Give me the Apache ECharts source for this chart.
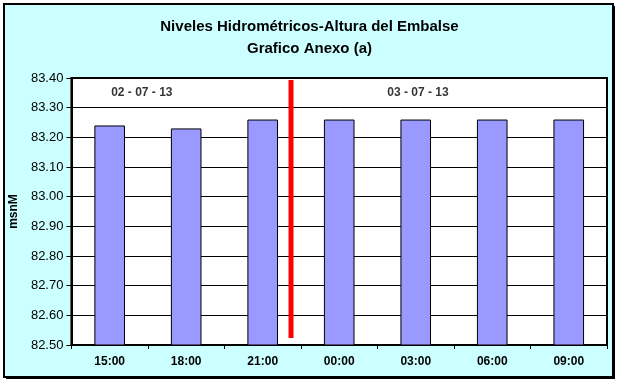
<!DOCTYPE html>
<html><head><meta charset="utf-8">
<script src="https://cdn.jsdelivr.net/npm/echarts@6/dist/echarts.min.js"></script>
<style>html,body{margin:0;padding:0;background:#fff}#c{width:619px;height:383px}</style>
</head><body><div id="c"></div>
<script>
var categories = ['15:00','18:00','21:00','00:00','03:00','06:00','09:00'];
var levels = [83.24, 83.23, 83.26, 83.26, 83.26, 83.26, 83.26];
var yTicks = ['82.50','82.60','82.70','82.80','82.90','83.00','83.10','83.20','83.30','83.40'];
var titleLines = ['Niveles Hidrométricos-Altura del Embalse', 'Grafico Anexo (a)'];
var dayLabels = ['02 - 07 - 13', '03 - 07 - 13'];
var dayLabelPos = [[0.92, 83.35], [4.53, 83.35]];
var dividerLine = [[2.87, 82.524], [2.87, 83.393]];
var yName = 'msnM';

var chart = echarts.init(document.getElementById('c'));
var font = '"Liberation Sans", Arial, sans-serif';
chart.setOption({
  animation: false,
  backgroundColor: '#ffffff',
  graphic: [
    {type:'rect', shape:{x:6,y:6,width:609,height:373}, style:{fill:'#000'}, z:-10},
    {type:'rect', shape:{x:4,y:4,width:609,height:373}, style:{fill:'#CCFFFF', stroke:'#000', lineWidth:2}, z:-9}
  ],
  title: {
    text: titleLines.join('\n'),
    left: 'center', top: 11,
    textStyle: {fontFamily: font, fontSize: 15, fontWeight: 'bold', color: '#000', lineHeight: 22}
  },
  grid: {left: 66, right: 12, top: 78, bottom: 38, show: true, backgroundColor: '#fff', borderColor: '#000', borderWidth: 2},
  xAxis: [{
    type: 'category', data: categories,
    axisLine: {lineStyle: {color: '#000', width: 2}},
    axisTick: {show: true, length: 4, lineStyle: {color: '#000'}},
    axisLabel: {fontFamily: font, fontSize: 12, fontWeight: 'bold', color: '#000', margin: 11}
  }, {
    type: 'value', min: 0, max: 7, show: false
  }],
  yAxis: {
    type: 'value', min: 82.5, max: 83.4, interval: 0.1,
    name: yName, nameLocation: 'middle', nameGap: 45,
    nameTextStyle: {fontFamily: font, fontSize: 12, fontWeight: 'bold', color: '#000'},
    axisLine: {show: true, lineStyle: {color: '#000', width: 2}},
    axisTick: {show: true, length: 5, lineStyle: {color: '#000'}},
    splitLine: {show: true, lineStyle: {color: '#000', width: 1}},
    axisLabel: {fontFamily: font, fontSize: 13, color: '#000', margin: 8,
      formatter: function (v) { return yTicks[Math.round((v - 82.5) * 10)]; }}
  },
  series: [{
    type: 'bar', data: levels, barWidth: '40%',
    itemStyle: {color: '#9999FF', borderColor: '#000', borderWidth: 1}
  }, {
    type: 'line', xAxisIndex: 1, data: dividerLine, symbol: 'none',
    lineStyle: {color: '#FF0000', width: 5, cap: 'butt'}, z: 5
  }, {
    type: 'scatter', xAxisIndex: 1, symbolSize: 0,
    data: dayLabelPos.map(function (p, i) { return {value: p, label: {formatter: dayLabels[i]}}; }),
    label: {show: true, position: 'inside', fontFamily: font, fontSize: 12, fontWeight: 'bold', color: '#000'}
  }]
});
</script></body></html>
